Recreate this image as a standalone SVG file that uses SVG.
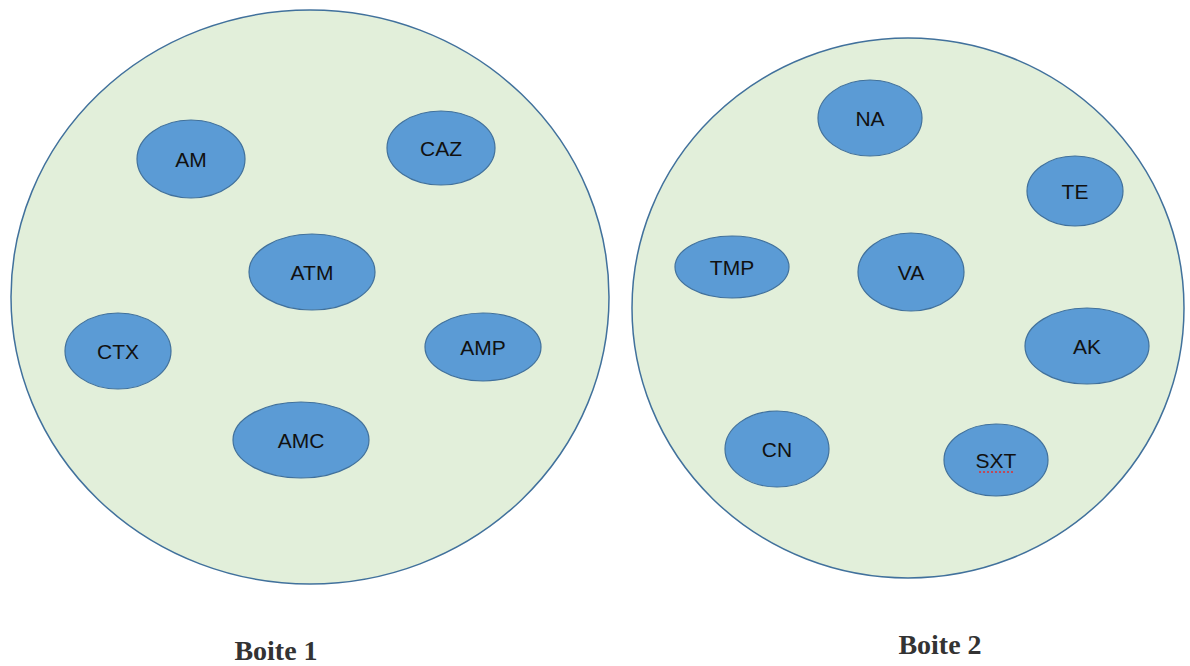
<svg xmlns="http://www.w3.org/2000/svg" width="1190" height="666" viewBox="0 0 1190 666">
<style>
.box{fill:#E2EFDA;stroke:#41719C;stroke-width:1.5}
.n{fill:#5B9BD5;stroke:#41719C;stroke-width:1.2}
.t{font-family:"Liberation Sans",Arial,sans-serif;font-size:21px;fill:#111;text-anchor:middle;dominant-baseline:central}
.lbl{font-family:"Liberation Serif","Times New Roman",serif;font-weight:bold;font-size:28px;fill:#333;text-anchor:middle}
</style>
<rect width="1190" height="666" fill="#fff"/>
<g id="boite1">
<ellipse class="box" cx="310" cy="297" rx="299" ry="287"/>
<text class="lbl" x="276" y="660">Boite 1</text>
</g>
<g id="boite2">
<ellipse class="box" cx="908" cy="308" rx="276" ry="270"/>
<text class="lbl" x="940" y="654">Boite 2</text>
</g>
<g id="connectors"></g>
<g id="AM"><ellipse class="n" cx="191" cy="159" rx="54" ry="39"/><text class="t" x="191" y="159">AM</text></g>
<g id="CAZ"><ellipse class="n" cx="441" cy="148" rx="54" ry="37"/><text class="t" x="441" y="148">CAZ</text></g>
<g id="ATM"><ellipse class="n" cx="312" cy="272" rx="63" ry="38"/><text class="t" x="312" y="272">ATM</text></g>
<g id="CTX"><ellipse class="n" cx="118" cy="351" rx="53" ry="38"/><text class="t" x="118" y="351">CTX</text></g>
<g id="AMP"><ellipse class="n" cx="483" cy="347" rx="58" ry="34"/><text class="t" x="483" y="347">AMP</text></g>
<g id="AMC"><ellipse class="n" cx="301" cy="440" rx="68" ry="38"/><text class="t" x="301" y="440">AMC</text></g>
<g id="NA"><ellipse class="n" cx="870" cy="118" rx="52" ry="38"/><text class="t" x="870" y="118">NA</text></g>
<g id="TE"><ellipse class="n" cx="1075" cy="191" rx="48" ry="35"/><text class="t" x="1075" y="191">TE</text></g>
<g id="TMP"><ellipse class="n" cx="732" cy="267" rx="57" ry="31"/><text class="t" x="732" y="267">TMP</text></g>
<g id="VA"><ellipse class="n" cx="911" cy="272" rx="53" ry="39"/><text class="t" x="911" y="272">VA</text></g>
<g id="AK"><ellipse class="n" cx="1087" cy="346" rx="62" ry="38"/><text class="t" x="1087" y="346">AK</text></g>
<g id="CN"><ellipse class="n" cx="777" cy="449" rx="52" ry="38"/><text class="t" x="777" y="449">CN</text></g>
<g id="SXT"><ellipse class="n" cx="996" cy="460" rx="52" ry="36"/><text class="t" x="996" y="460">SXT</text>
<line x1="979" y1="472" x2="1014" y2="472" stroke="#E03030" stroke-width="1.5" stroke-dasharray="2,2"/></g>
</svg>
